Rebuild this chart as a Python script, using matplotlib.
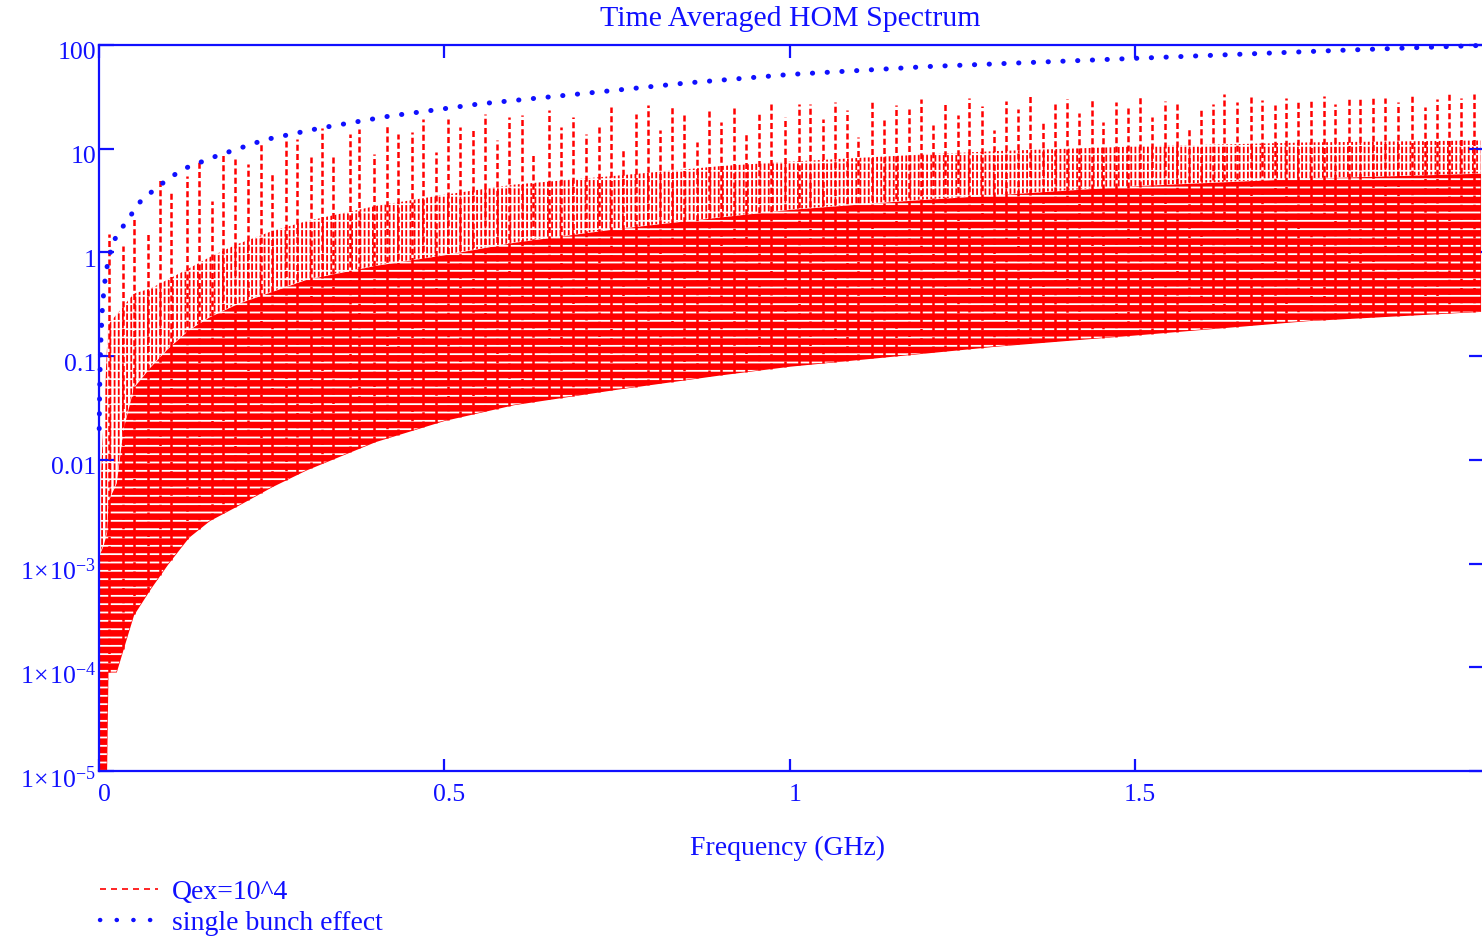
import numpy as np
import matplotlib
matplotlib.use("Agg")
import matplotlib.pyplot as plt
from matplotlib.lines import Line2D
from matplotlib.transforms import ScaledTranslation

plt.rcParams['font.family'] = ['Liberation Serif', 'DejaVu Serif']
plt.rcParams['mathtext.fontset'] = 'custom'
plt.rcParams['mathtext.rm'] = 'Liberation Serif'
plt.rcParams['mathtext.it'] = 'Liberation Serif:italic'
plt.rcParams['hatch.linewidth'] = 1.3

BLUE = '#1010ff'
RED = '#ff0000'

# ---------------- data ----------------
# single bunch effect (blue dotted)
single_f = [0.0003, 0.001, 0.002, 0.003, 0.005, 0.008, 0.012, 0.02, 0.03, 0.04,
            0.06, 0.085, 0.12, 0.17, 0.24, 0.32, 0.42, 0.55, 0.7, 0.85,
            1.0, 1.2, 1.4, 1.6, 1.8, 2.0]
single_v = [0.02, 0.05, 0.1, 0.16, 0.3, 0.5, 0.75, 1.25, 1.6, 2.0,
            3.1, 4.3, 6.3, 8.5, 12.2, 15.8, 20.6, 27, 34, 43,
            52, 62, 70, 79, 89, 99]

# Qex=10^4 spectrum envelopes (red)
env_f = [0.0, 0.006, 0.011, 0.013, 0.025, 0.035, 0.05, 0.075, 0.1, 0.13, 0.16, 0.2,
         0.25, 0.3, 0.4, 0.5, 0.6, 0.75, 0.9, 1.0, 1.15, 1.3, 1.5, 1.75, 2.0]
floor_v = [1e-5, 1e-5, 1e-5, 9e-5, 9e-5, 1.5e-4, 3.2e-4, 5.8e-4, 1.0e-3, 1.8e-3, 2.6e-3, 3.6e-3,
           5.5e-3, 8e-3, 0.015, 0.024, 0.034, 0.048, 0.066, 0.08, 0.10, 0.125, 0.16, 0.22, 0.27]
band_v = [1.2e-3, 1.5e-3, 2e-3, 4e-3, 6e-3, 0.02, 0.05, 0.08, 0.12, 0.18, 0.24, 0.32,
          0.42, 0.55, 0.75, 0.95, 1.25, 1.7, 2.2, 2.6, 3.1, 3.6, 4.4, 5.2, 5.8]
fringe_v = [3e-3, 0.02, 0.1, 0.2, 0.25, 0.3, 0.4, 0.45, 0.55, 0.7, 0.9, 1.2,
            1.6, 2.0, 2.8, 3.6, 4.5, 5.5, 6.8, 7.5, 8.5, 9.5, 10.5, 11.5, 12]

# resonance peaks (frequency GHz, peak value)
peak_f = [0.0145, 0.035, 0.051, 0.071, 0.088, 0.104, 0.128, 0.145, 0.164, 0.180,
          0.197, 0.216, 0.235, 0.251, 0.271, 0.287, 0.307, 0.323, 0.339, 0.363,
          0.377, 0.398, 0.417, 0.433, 0.453, 0.469, 0.488, 0.505, 0.523, 0.542,
          0.559, 0.576, 0.594, 0.613, 0.629, 0.652, 0.669, 0.686, 0.705, 0.724,
          0.741, 0.759, 0.778, 0.795, 0.812, 0.830, 0.847, 0.866, 0.883, 0.901,
          0.919, 0.937, 0.955, 0.973, 0.993, 1.014, 1.030, 1.048, 1.066, 1.083,
          1.099, 1.119, 1.137, 1.154, 1.172, 1.190, 1.207, 1.225, 1.243, 1.260,
          1.278, 1.296, 1.313, 1.331, 1.348, 1.366, 1.384, 1.401, 1.419, 1.437,
          1.454, 1.472, 1.490, 1.507, 1.525, 1.543, 1.560, 1.578, 1.596, 1.613,
          1.629, 1.647, 1.667, 1.683, 1.702, 1.719, 1.736, 1.754, 1.773, 1.790,
          1.809, 1.825, 1.845, 1.862, 1.881, 1.901, 1.919, 1.937, 1.955, 1.972,
          1.991]
peak_v = [1.5, 1.15, 2.1, 1.5, 5.2, 3.7, 5.4, 7.5, 3.1, 8.7,
          8.0, 7.2, 11.0, 5.7, 12.5, 12.5, 8.4, 16.0, 8.9, 14.0,
          15.6, 8.9, 17.4, 14.0, 14.6, 19.4, 9.3, 19.4, 16.2, 15.2,
          21.7, 12.2, 20.3, 21.2, 8.7, 23.7, 16.2, 20.3, 13.9, 16.2,
          25.3, 10.0, 21.7, 26.5, 15.2, 25.3, 21.7, 11.7, 24.0, 18.0,
          26.0, 14.0, 22.0, 27.0, 20.3, 27.0, 27.0, 19.4, 28.0, 23.7,
          13.0, 28.0, 19.0, 26.5, 24.0, 30.0, 17.0, 28.0, 21.0, 31.0,
          26.0, 15.0, 29.0, 24.0, 32.0, 19.0, 27.0, 30.0, 22.0, 31.0,
          18.0, 28.0, 25.0, 32.0, 20.0, 29.0, 27.0, 16.0, 24.0, 27.0,
          33.6, 28.0, 32.0, 29.5, 26.5, 30.7, 28.0, 29.5, 32.0, 27.0,
          30.7, 30.7, 30.7, 30.7, 28.0, 32.0, 25.0, 30.0, 33.6, 30.7,
          33.6]

y_ticks = [1e-5, 1e-4, 1e-3, 0.01, 0.1, 1, 10, 100]
y_ticklabels = [r'$1\hspace{0.06}{\times}\hspace{0.06}10^{-5}$',
                r'$1\hspace{0.06}{\times}\hspace{0.06}10^{-4}$',
                r'$1\hspace{0.06}{\times}\hspace{0.06}10^{-3}$',
                '0.01', '0.1', '1', '10', '100']
x_ticks = [0, 0.5, 1, 1.5]
x_ticklabels = ['0', '0.5', '1', '1.5']

# ---------------- figure ----------------
W, H = 1482, 937
fig = plt.figure(figsize=(W / 100, H / 100), dpi=100)
ax = fig.add_axes([99 / W, 1 - 772 / H, (1484 - 99) / W, (772 - 46) / H])
ax.set_yscale('log')
ax.set_xlim(0, 2.005)
ax.set_ylim(1e-5, 100)

# dense part of the spectrum
ax.fill_between(env_f, band_v, fringe_v, facecolor='none', edgecolor=RED,
                hatch='||||', linewidth=0, zorder=1)
ax.fill_between(env_f, floor_v, band_v, facecolor=RED, edgecolor=RED,
                linewidth=0, zorder=2)
ax.fill_between(env_f, floor_v, fringe_v, facecolor='none', edgecolor='white',
                hatch='--', linewidth=0, zorder=2.5)
# peaks
log_floor = np.log10(floor_v)
peak_bottom = 10 ** np.interp(peak_f, env_f, log_floor)
ax.vlines(peak_f, peak_bottom, peak_v, colors=RED, linewidth=1.8,
          linestyles=[(0, (2.4, 1.3))], zorder=3)

# single bunch effect
ax.plot(single_f, single_v, color=BLUE, linewidth=3.6,
        linestyle=(0, (0.05, 2.9)), dash_capstyle='round', zorder=4, clip_on=False)

# axes styling
for s in ax.spines.values():
    s.set_color(BLUE)
    s.set_linewidth(1.6)
ax.set_yticks(y_ticks)
ax.set_yticklabels(y_ticklabels)
ax.yaxis.set_minor_locator(matplotlib.ticker.NullLocator())
ax.set_xticks(x_ticks)
ax.set_xticklabels(x_ticklabels)
ax.tick_params(axis='y', which='major', direction='in', length=11, width=1.6,
               color=BLUE, labelcolor=BLUE, labelsize=18.5, left=True, right=True, pad=2)
ax.tick_params(axis='x', which='major', direction='in', length=9, width=1.6,
               color=BLUE, labelcolor=BLUE, labelsize=18.5, bottom=True, top=True, pad=9)

for lab in ax.get_xticklabels():
    lab.set_transform(lab.get_transform() + ScaledTranslation(0.05, 0, fig.dpi_scale_trans))
for lab in ax.get_yticklabels():
    lab.set_transform(lab.get_transform() + ScaledTranslation(0, -0.05, fig.dpi_scale_trans))

fig.text(790 / W, 1 - 19 / H, 'Time Averaged HOM Spectrum', color=BLUE, fontsize=21.5,
         ha='center', va='center')
fig.text(788 / W, 1 - 848 / H, 'Frequency (GHz)', color=BLUE, fontsize=20,
         ha='center', va='center')

h_red = Line2D([], [], color=RED, linewidth=1.2, linestyle=(0, (3.6, 3.0)))
h_blue = Line2D([], [], color=BLUE, linewidth=3.2, linestyle=(0, (0.05, 3.7)),
                dash_capstyle='round')
fig.legend([h_red, h_blue], ['Qex=10^4', 'single bunch effect'],
           loc='upper left', bbox_to_anchor=(100 / W, 1 - 880 / H),
           frameon=False, fontsize=20, labelcolor=BLUE, handlelength=2.1,
           handletextpad=0.5, labelspacing=0.2, borderpad=0, borderaxespad=0)

fig.savefig('out.png', dpi=100)
